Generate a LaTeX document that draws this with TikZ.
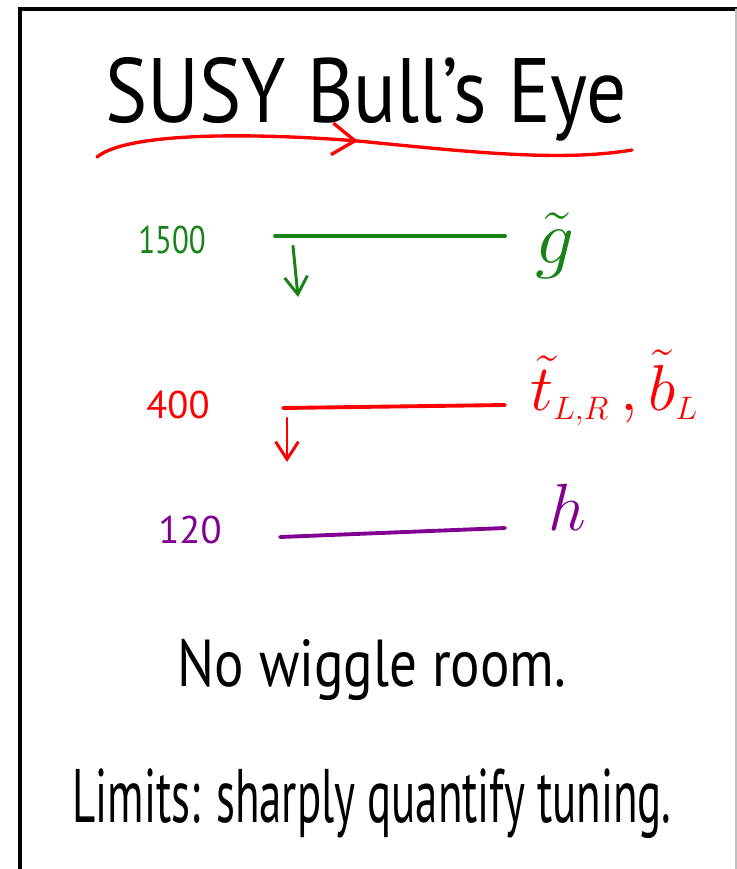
\RequirePackage{fix-cm}
\documentclass[tikz,border=0pt]{standalone}
\usepackage{graphicx}
\usepackage{fontspec}
\setmainfont{PT Sans}
\usetikzlibrary{arrows.meta,decorations.markings}
\definecolor{inkgreen}{RGB}{25,130,25}
\definecolor{inkred}{RGB}{255,0,0}
\definecolor{inkpurple}{RGB}{130,0,145}

\tikzset{
  level/.style={line width=2.2pt},
  drop/.style={line width=1.7pt, -{Straight Barb[length=10pt,width=13pt]}},
  mass/.style={font=\fontsize{22}{24}\selectfont},
  remark/.style={font=\fontsize{36}{38}\selectfont},
}

\begin{document}
\begin{tikzpicture}[x=0.02cm, y=-0.02cm, line cap=round, every node/.style={inner sep=0pt}]
  % 1. page and frame
  \useasboundingbox (0,0) rectangle (737,869);
  \fill[white] (0,0) rectangle (737,869);
  \draw[line width=2.3pt, line cap=butt] (20,869) -- (20,9) -- (737,9);
  \draw[black!25, line width=0.6pt] (736,9) -- (736,869);

  % 2. title with its red underline
  \node[anchor=base west, font=\fontsize{52}{54}\selectfont] (title) at (105,122)
    {\scalebox{0.87}[1]{SUSY Bull's Eye}};
  \coordinate (ulA) at (97,157);
  \coordinate (ulM) at (358,141);
  \coordinate (ulB) at (632,150);
  \draw[inkred, line width=1.9pt, postaction={decorate},
    decoration={markings, mark=at position 0.49 with {\arrow{Straight Barb[length=13pt,width=18pt]}}}]
    (ulA) .. controls (130,130) and (270,134) .. (ulM)
          .. controls (470,152) and (560,162) .. (ulB);

  % 3. the three levels
  \node[mass, text=inkgreen] (m1500) at (172,240) {\scalebox{0.8}[1]{1500}};
  \coordinate (gL) at (275,236);
  \coordinate (gR) at (505,236);
  \draw[level, inkgreen] (gL) -- (gR);
  \node[text=inkgreen, font=\fontsize{44}{46}\selectfont] (gluino) at (555,246) {$\tilde{g}$};
  \coordinate (gA) at (293,246);
  \coordinate (gB) at (298,297);
  \draw[drop, inkgreen] (gA) -- (gB);

  \node[mass, text=inkred] (m400) at (178,405) {400};
  \coordinate (sL) at (283,408);
  \coordinate (sR) at (505,405);
  \draw[level, inkred] (sL) -- (sR);
  \node[text=inkred, anchor=base west, font=\fontsize{37}{39}\selectfont] (squark) at (530,410)
    {$\tilde{t}_{\scriptscriptstyle L,R}\,,\tilde{b}_{\scriptscriptstyle L}$};
  \coordinate (sA) at (287,418);
  \coordinate (sB) at (287,462);
  \draw[drop, inkred] (sA) -- (sB);

  \node[mass, text=inkpurple] (m120) at (190,530) {120};
  \coordinate (hL) at (280,537);
  \coordinate (hR) at (505,528);
  \draw[level, inkpurple] (hL) -- (hR);
  \node[text=inkpurple, anchor=base west, font=\fontsize{38}{40}\selectfont] (higgs) at (548,530) {$h$};

  % 4. remarks
  \node[remark, anchor=base] (wiggle) at (372,686) {\scalebox{0.87}[1.05]{No wiggle room.}};
  \node[remark, anchor=base] (limits) at (372,822) {\scalebox{0.71}[1.2]{Limits: sharply quantify tuning.}};
\end{tikzpicture}
\end{document}
